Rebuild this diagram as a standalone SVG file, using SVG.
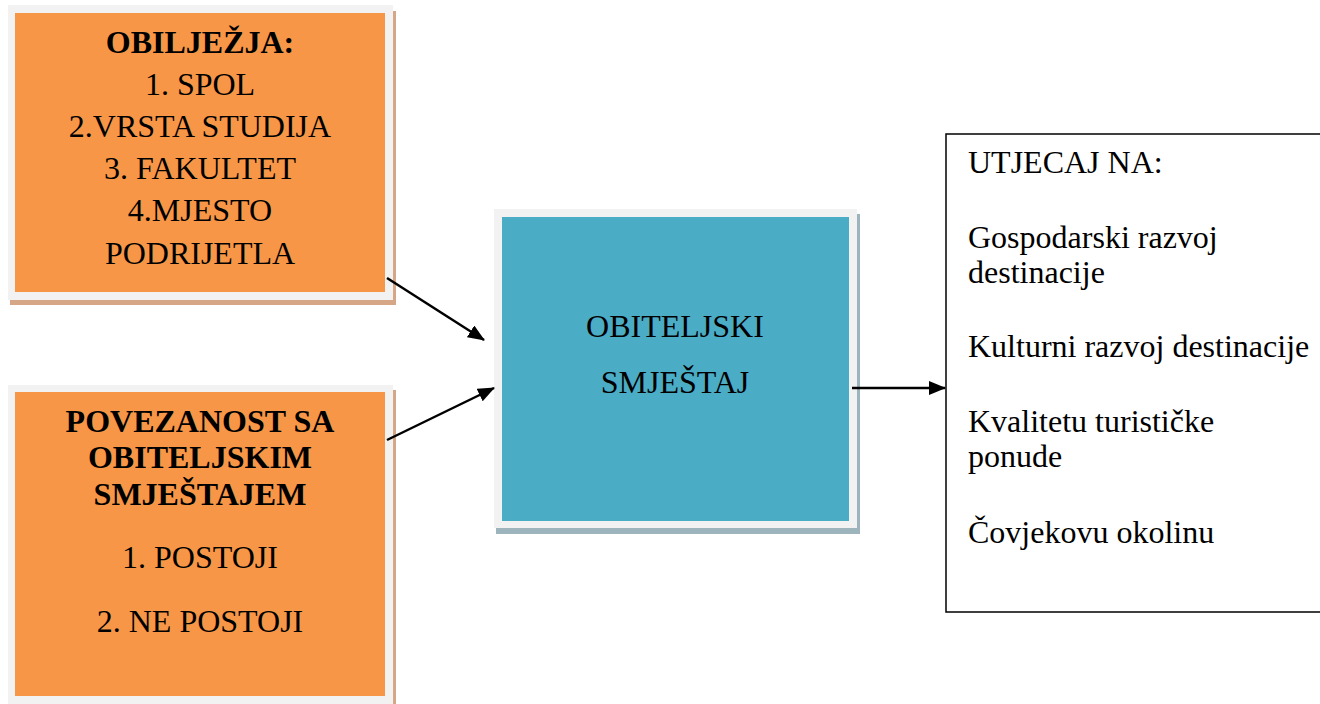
<svg xmlns="http://www.w3.org/2000/svg" width="1320" height="704" viewBox="0 0 1320 704">
<style>
.t{font-family:"Liberation Serif","Times New Roman",serif;font-size:32px;fill:#000}
.c{text-anchor:middle}
.b{font-weight:bold}
.frame{fill:#F2F2F2}
.os{fill:#D6A786}
.bs{fill:#9DB4BC}
.orange{fill:#F79646}
.blue{fill:#4BACC6}
.conn{stroke:#000;stroke-width:2.5;fill:none;marker-end:url(#ah)}
</style>
<defs>
<marker id="ah" markerWidth="17" markerHeight="14" refX="16" refY="7" orient="auto" markerUnits="userSpaceOnUse" viewBox="0 0 17 14">
<path d="M0,0 L17,7 L0,14 z" fill="#000"/>
</marker>
</defs>
<rect width="1320" height="704" fill="#fff"/>
<g id="obiljezja">
<rect class="os" x="10" y="11" width="386" height="294"/>
<rect class="frame" x="8" y="5" width="385" height="295"/>
<rect class="orange" x="15" y="13" width="370" height="279"/>
<text class="t c b" x="200" y="53">OBILJEŽJA:</text>
<text class="t c" x="200" y="95">1. SPOL</text>
<text class="t c" x="200" y="137">2.VRSTA STUDIJA</text>
<text class="t c" x="200" y="179">3. FAKULTET</text>
<text class="t c" x="200" y="221">4.MJESTO</text>
<text class="t c" x="200" y="264">PODRIJETLA</text>
</g>
<g id="povezanost">
<rect class="os" x="10" y="390" width="386" height="320"/>
<rect class="frame" x="8" y="385" width="385" height="320"/>
<rect class="orange" x="15" y="392" width="370" height="304"/>
<text class="t c b" x="200" y="432">POVEZANOST SA</text>
<text class="t c b" x="200" y="468">OBITELJSKIM</text>
<text class="t c b" x="200" y="505">SMJEŠTAJEM</text>
<text class="t c" x="200" y="568">1. POSTOJI</text>
<text class="t c" x="200" y="632">2. NE POSTOJI</text>
</g>
<g id="smjestaj">
<rect class="bs" x="496" y="214" width="364" height="320"/>
<rect class="frame" x="494" y="209" width="363" height="319"/>
<rect class="blue" x="502" y="217" width="347" height="304"/>
<text class="t c" x="675" y="337">OBITELJSKI</text>
<text class="t c" x="675" y="393">SMJEŠTAJ</text>
</g>
<g id="utjecaj">
<rect x="946" y="134" width="390" height="478" fill="#fff" stroke="#000" stroke-width="1.5"/>
<text class="t" x="968" y="173">UTJECAJ NA:</text>
<text class="t" x="968" y="248">Gospodarski razvoj</text>
<text class="t" x="968" y="283">destinacije</text>
<text class="t" x="968" y="357">Kulturni razvoj destinacije</text>
<text class="t" x="968" y="432">Kvalitetu turističke</text>
<text class="t" x="968" y="467">ponude</text>
<text class="t" x="968" y="543">Čovjekovu okolinu</text>
</g>
<g id="connectors">
<line class="conn" x1="387" y1="278" x2="484" y2="340"/>
<line class="conn" x1="387" y1="440" x2="494" y2="388"/>
<line class="conn" x1="852" y1="388" x2="945" y2="388"/>
</g>
</svg>
